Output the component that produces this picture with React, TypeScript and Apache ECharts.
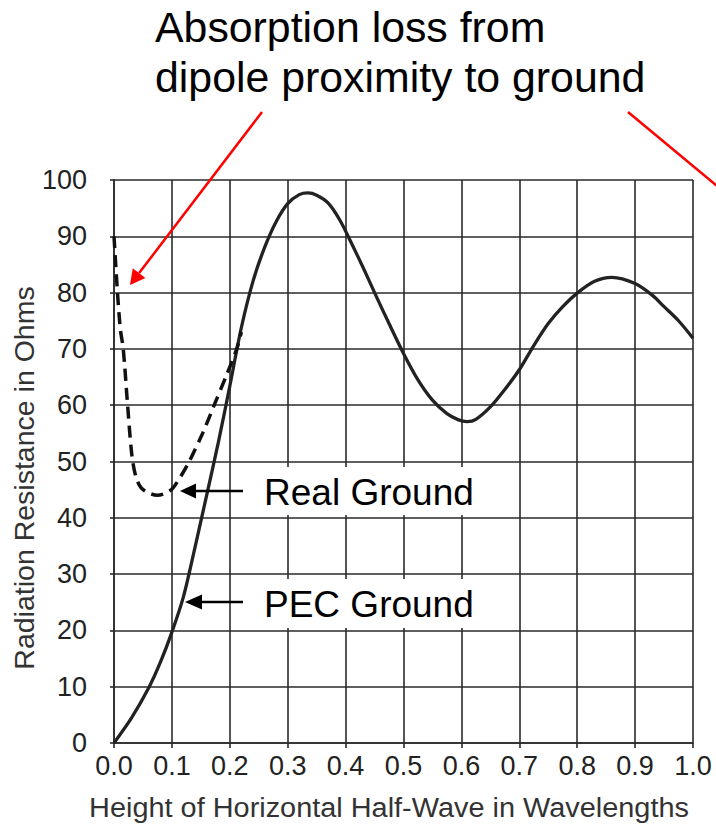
import React, { useEffect, useRef } from "react";
import * as echarts from "echarts";

// ---- data ----
const pecHeight = [0, 0.03, 0.06, 0.08, 0.1, 0.12, 0.14, 0.16, 0.18, 0.2, 0.22, 0.24, 0.26, 0.28, 0.3, 0.32, 0.335, 0.35, 0.37, 0.39, 0.41, 0.43, 0.45, 0.475, 0.5, 0.525, 0.55, 0.575, 0.595, 0.61, 0.625, 0.65, 0.675, 0.7, 0.725, 0.75, 0.775, 0.8, 0.83, 0.86, 0.9, 0.93, 0.95, 0.975, 1.0];
const pecResistance = [0, 4.4, 9.8, 14.3, 19.7, 26.0, 34.8, 44.0, 53.3, 63.4, 73.8, 82.0, 88.0, 92.6, 95.8, 97.4, 97.7, 97.3, 95.9, 92.9, 88.8, 84.5, 80.0, 74.5, 69.2, 64.5, 60.9, 58.5, 57.4, 57.1, 57.5, 59.7, 62.8, 66.3, 70.6, 74.5, 77.5, 79.9, 82.0, 82.7, 81.6, 79.5, 77.5, 75.0, 71.9];

const realHeight = [0, 0.006, 0.011, 0.016, 0.0235, 0.031, 0.038, 0.047, 0.06, 0.075, 0.09, 0.101, 0.115, 0.13, 0.153, 0.173, 0.193, 0.212, 0.22];
const realResistance = [90, 80, 73.5, 70, 60, 51, 47.2, 45.3, 44.4, 44.0, 44.4, 45.2, 47.3, 50, 55, 60, 65, 70, 73];

const xTickLabels = ["0.0", "0.1", "0.2", "0.3", "0.4", "0.5", "0.6", "0.7", "0.8", "0.9", "1.0"];
const titleLines = ["Absorption loss from", "dipole proximity to ground"];
const xAxisTitle = "Height of Horizontal Half-Wave in Wavelengths";
const yAxisTitle = "Radiation Resistance in Ohms";
const realLabel = "Real Ground";
const pecLabel = "PEC Ground";

const FONT = "'Liberation Sans', Arial, Helvetica, sans-serif";

function arrowHead(tipX: number, tipY: number, fromX: number, fromY: number, len: number, half: number) {
  const dx = tipX - fromX;
  const dy = tipY - fromY;
  const d = Math.sqrt(dx * dx + dy * dy);
  const ux = dx / d;
  const uy = dy / d;
  const bx = tipX - ux * len;
  const by = tipY - uy * len;
  const nx = -uy;
  const ny = ux;
  return {
    base: [bx, by],
    points: [
      [tipX, tipY],
      [bx + nx * half, by + ny * half],
      [bx - nx * half, by - ny * half],
    ],
  };
}

export default function App() {
  const ref = useRef<HTMLDivElement>(null);

  useEffect(() => {
    if (!ref.current) return;
    const chart = echarts.init(ref.current, undefined, { renderer: "svg" });

    const pecData = pecHeight.map((h, i) => [h, pecResistance[i]]);
    const realData = realHeight.map((h, i) => [h, realResistance[i]]);

    const redHead = arrowHead(130, 285, 262, 112, 15, 8);
    const realHead = arrowHead(180, 491, 243, 491, 16, 7.5);
    const pecHead = arrowHead(185, 602, 243, 602, 17, 7.5);

    const textStyle = (text: string, size: number, fill: string, align = "left") => ({
      text,
      fontSize: size,
      fontFamily: FONT,
      fill,
      align,
      verticalAlign: "middle",
      textAlign: align,
      textVerticalAlign: "middle",
    });

    const option: any = {
      animation: false,
      backgroundColor: "#ffffff",
      grid: {
        left: 114,
        top: 180,
        width: 579,
        height: 563,
        containLabel: false,
        outerBoundsMode: "none",
      },
      xAxis: {
        type: "value",
        min: 0,
        max: 1,
        interval: 0.1,
        axisLine: { show: true, onZero: false, lineStyle: { color: "#2a2a2a", width: 1.6 } },
        axisTick: { show: true, length: 5, lineStyle: { color: "#2a2a2a", width: 1.6 } },
        splitLine: { show: true, lineStyle: { color: "#2a2a2a", width: 1.6 } },
        axisLabel: {
          showMinLabel: true,
          showMaxLabel: true,
          margin: 9,
          fontSize: 27,
          fontFamily: FONT,
          color: "#222",
          formatter: (v: number) => xTickLabels[Math.round(v * 10)] ?? v.toFixed(1),
        },
      },
      yAxis: {
        type: "value",
        min: 0,
        max: 100,
        interval: 10,
        axisLine: { show: true, lineStyle: { color: "#2a2a2a", width: 1.6 } },
        axisTick: { show: true, length: 4, lineStyle: { color: "#2a2a2a", width: 1.6 } },
        splitLine: { show: true, lineStyle: { color: "#2a2a2a", width: 1.6 } },
        axisLabel: {
          showMinLabel: true,
          showMaxLabel: true,
          margin: 27,
          fontSize: 27,
          fontFamily: FONT,
          color: "#222",
        },
      },
      series: [
        {
          name: "PEC Ground",
          type: "line",
          data: pecData,
          smooth: 0.3,
          showSymbol: false,
          lineStyle: { color: "#222", width: 3.3 },
          z: 3,
        },
        {
          name: "Real Ground",
          type: "line",
          data: realData,
          smooth: 0.3,
          showSymbol: false,
          lineStyle: { color: "#111", width: 3.5, type: [12, 7] },
          z: 4,
        },
      ],
      graphic: [
        // title
        { type: "text", x: 155, y: 28, scaleX: 1.02, z: 100, style: textStyle(titleLines[0], 42, "#000") },
        { type: "text", x: 155, y: 78, scaleX: 1.02, z: 100, style: textStyle(titleLines[1], 42, "#000") },
        // red callout lines
        {
          type: "line",
          z: 100,
          shape: { x1: 262, y1: 112, x2: redHead.base[0], y2: redHead.base[1] },
          style: { stroke: "#ff0000", lineWidth: 2.5 },
        },
        { type: "polygon", z: 100, shape: { points: redHead.points }, style: { fill: "#ff0000" } },
        {
          type: "line",
          z: 100,
          shape: { x1: 628, y1: 112, x2: 722, y2: 190 },
          style: { stroke: "#ff0000", lineWidth: 2.5 },
        },
        // label boxes
        { type: "rect", z: 90, shape: { x: 242, y: 467, width: 256, height: 48 }, style: { fill: "#ffffff" } },
        { type: "rect", z: 90, shape: { x: 242, y: 579, width: 256, height: 49 }, style: { fill: "#ffffff" } },
        { type: "text", x: 264, y: 492, z: 100, style: textStyle(realLabel, 37, "#000") },
        { type: "text", x: 264, y: 604, z: 100, style: textStyle(pecLabel, 37, "#000") },
        // black arrows
        {
          type: "line",
          z: 100,
          shape: { x1: 243, y1: 491, x2: realHead.base[0], y2: realHead.base[1] },
          style: { stroke: "#000", lineWidth: 2.5 },
        },
        { type: "polygon", z: 100, shape: { points: realHead.points }, style: { fill: "#000" } },
        {
          type: "line",
          z: 100,
          shape: { x1: 243, y1: 602, x2: pecHead.base[0], y2: pecHead.base[1] },
          style: { stroke: "#000", lineWidth: 2.5 },
        },
        { type: "polygon", z: 100, shape: { points: pecHead.points }, style: { fill: "#000" } },
        // axis names
        {
          type: "text",
          x: 24,
          y: 478,
          rotation: Math.PI / 2,
          z: 100,
          style: textStyle(yAxisTitle, 28.5, "#333", "center"),
        },
        {
          type: "text",
          x: 389,
          y: 808,
          scaleX: 1.07,
          z: 100,
          style: textStyle(xAxisTitle, 27, "#333", "center"),
        },
      ],
    };

    chart.setOption(option);
    return () => {
      chart.dispose();
    };
  }, []);

  return (
    <div
      ref={ref}
      style={{ position: "fixed", left: 0, top: 0, width: 716, height: 825, background: "#fff" }}
    />
  );
}
